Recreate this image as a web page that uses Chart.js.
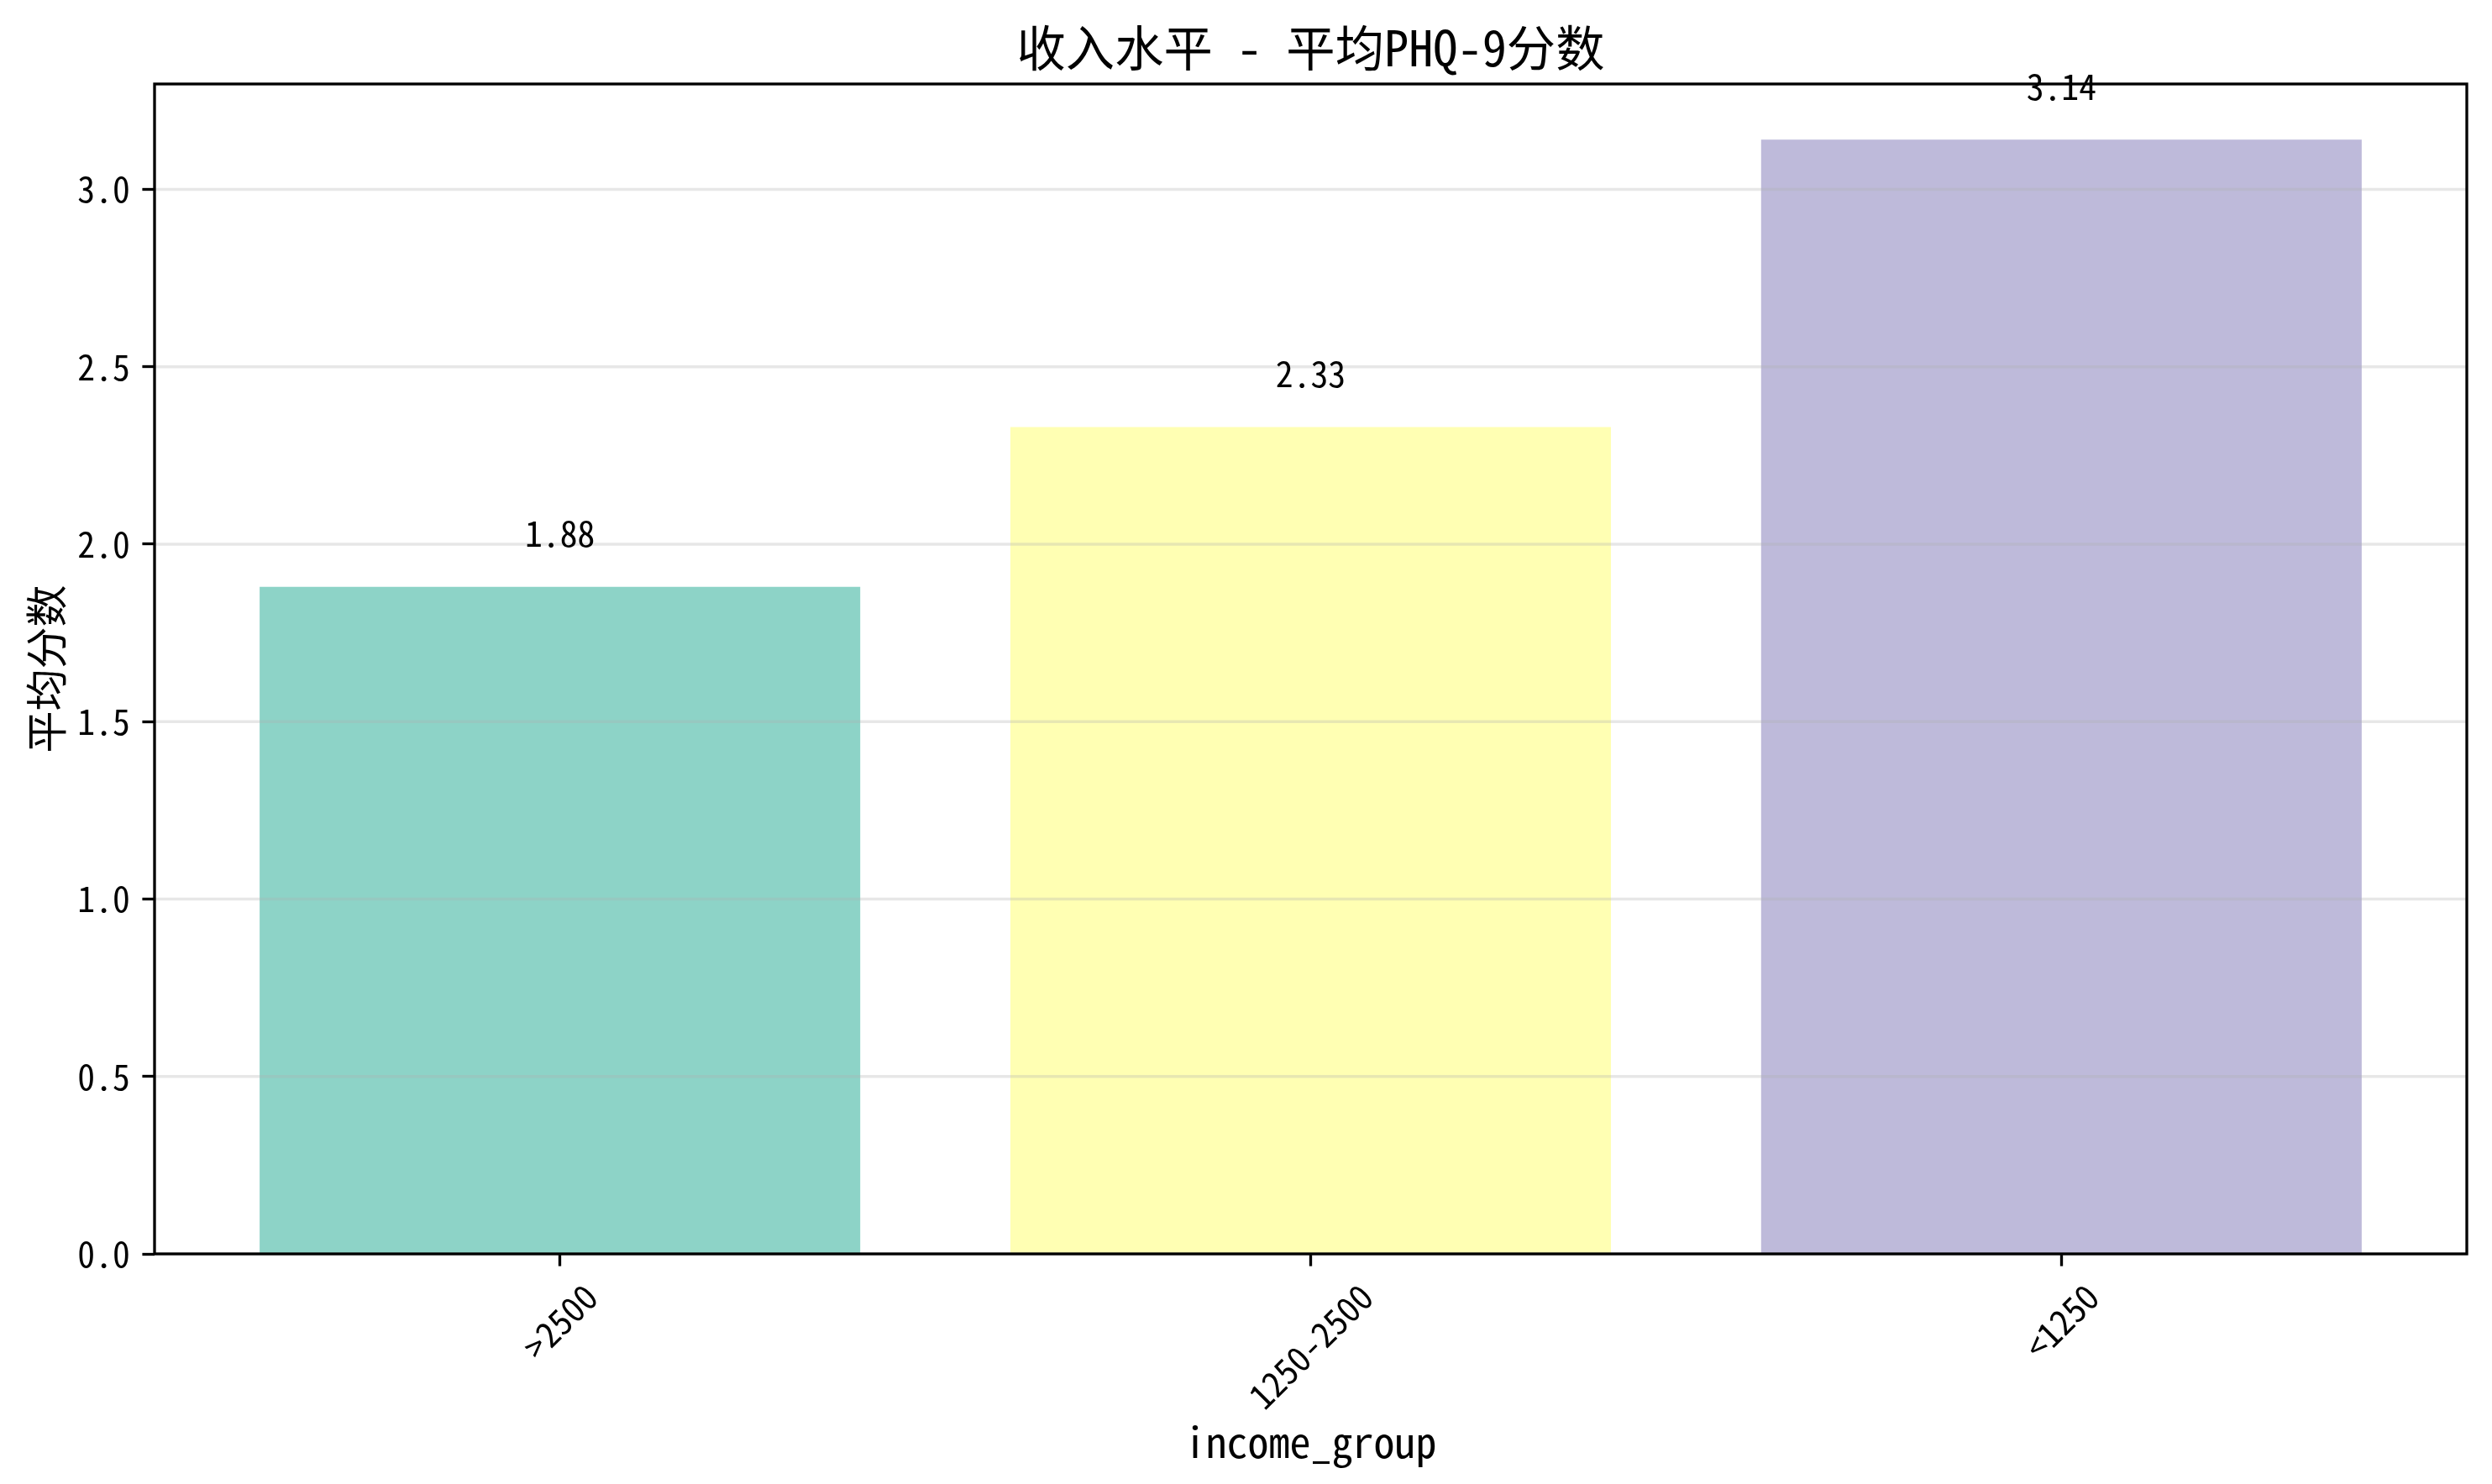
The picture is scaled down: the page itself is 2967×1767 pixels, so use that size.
<!DOCTYPE html>
<html>
<head>
<meta charset="utf-8">
<script src="https://cdn.jsdelivr.net/npm/chart.js@4.4.1/dist/chart.umd.min.js"></script>
<style>
  html, body { margin: 0; padding: 0; background: #fff; }
  #wrap { width: 2967px; height: 1767px; }
</style>
</head>
<body>
<div id="wrap"><canvas id="chart"></canvas></div>
<script>
const categories = ['>2500', '1250-2500', '<1250']
const scores = [1.88, 2.33, 3.14]
const barColors = ['#8dd3c7', '#ffffb3', '#bebada']
const yTicks = [0, 0.5, 1.0, 1.5, 2.0, 2.5, 3.0]
const chartTitle = '收入水平 - 平均PHQ-9分数'

const FONT = '"Noto Sans Mono CJK SC", "Noto Sans CJK SC", sans-serif'
const PT = 300 / 72

// title over the plot area, frame, grid on top of bars, value labels, rotated x labels
const extras = {
  id: 'extras',
  afterDatasetsDraw(chart) {
    const ctx = chart.ctx
    const area = chart.chartArea
    const xs = chart.scales.x
    const ys = chart.scales.y

    ctx.save()
    ctx.strokeStyle = 'rgba(176,176,176,0.3)'
    ctx.lineWidth = 0.8 * PT
    yTicks.forEach(v => {
      const y = ys.getPixelForValue(v)
      ctx.beginPath()
      ctx.moveTo(area.left, y)
      ctx.lineTo(area.right, y)
      ctx.stroke()
    })

    ctx.fillStyle = '#000'
    ctx.textAlign = 'center'
    ctx.textBaseline = 'middle'
    ctx.font = (14 * PT) + 'px ' + FONT
    ctx.fillText(chartTitle, (area.left + area.right) / 2, area.top - 43)

    ctx.font = (10 * PT) + 'px ' + FONT
    ctx.textBaseline = 'bottom'
    scores.forEach((v, i) => {
      ctx.fillText(v.toFixed(2), xs.getPixelForValue(i), ys.getPixelForValue(v + 0.1))
    })

    const fs = 10 * PT
    ctx.textBaseline = 'middle'
    categories.forEach((c, i) => {
      const w = ctx.measureText(c).width
      const x = xs.getPixelForValue(i)
      const y = area.bottom + 7 * PT + (w + fs) * Math.SQRT1_2 / 2
      ctx.save()
      ctx.translate(x, y)
      ctx.rotate(-Math.PI / 4)
      ctx.fillText(c, 0, 0)
      ctx.restore()
    })

    ctx.strokeStyle = '#000'
    ctx.lineWidth = 0.8 * PT
    ctx.strokeRect(area.left, area.top, area.right - area.left, area.bottom - area.top)
    ctx.restore()
  }
}

new Chart(document.getElementById('chart'), {
  type: 'bar',
  data: {
    datasets: [{
      data: scores.map((v, i) => ({ x: i, y: v })),
      backgroundColor: barColors,
      borderWidth: 0,
      barPercentage: 0.8,
      categoryPercentage: 1.0
    }]
  },
  plugins: [extras],
  options: {
    responsive: true,
    maintainAspectRatio: false,
    devicePixelRatio: 1,
    animation: false,
    layout: { padding: { left: 0, top: 100, bottom: 0, right: 30 } },
    plugins: {
      legend: { display: false },
      tooltip: { enabled: false },
      title: { display: false }
    },
    scales: {
      x: {
        type: 'linear',
        offset: false,
        min: -0.54,
        max: 2.54,
        afterBuildTicks: s => { s.ticks = categories.map((c, i) => ({ value: i })) },
        afterFit: s => { s.height = 274 },
        grid: {
          offset: false,
          drawOnChartArea: false,
          drawTicks: true,
          tickLength: 3.5 * PT,
          tickWidth: 0.8 * PT,
          tickColor: '#000'
        },
        border: { display: false },
        ticks: {
          autoSkip: false,
          maxRotation: 0,
          minRotation: 0,
          color: 'rgba(0,0,0,0)',
          font: { family: FONT, size: 10 * PT },
          callback: v => categories[v]
        },
        title: {
          display: true,
          text: 'income_group',
          color: '#000',
          font: { family: FONT, size: 12 * PT, lineHeight: 1.2 },
          padding: { top: 0, bottom: 20 }
        }
      },
      y: {
        min: 0,
        max: 3.297,
        afterBuildTicks: s => { s.ticks = yTicks.map(v => ({ value: v })) },
        afterFit: s => { s.width = 184 },
        grid: {
          drawOnChartArea: false,
          drawTicks: true,
          tickLength: 3.5 * PT,
          tickWidth: 0.8 * PT,
          tickColor: '#000'
        },
        border: { display: false },
        ticks: {
          color: '#000',
          padding: 3.5 * PT,
          font: { family: FONT, size: 10 * PT },
          callback: v => v.toFixed(1)
        },
        title: {
          display: true,
          text: '平均分数',
          color: '#000',
          font: { family: FONT, size: 12 * PT, lineHeight: 1.2 },
          padding: { top: 25, bottom: 0 }
        }
      }
    }
  }
})
</script>
</body>
</html>
